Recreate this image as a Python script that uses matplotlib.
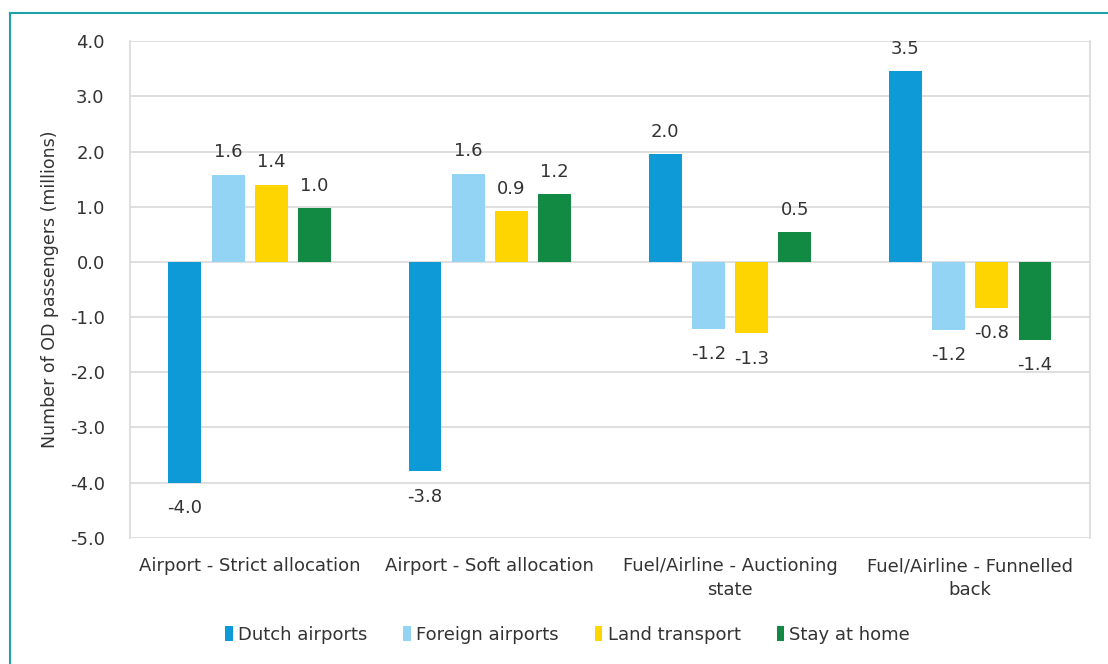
import matplotlib
matplotlib.use("Agg")
import matplotlib.pyplot as plt
import numpy as np
from matplotlib.lines import Line2D

categories = ["Airport - Strict allocation", "Airport - Soft allocation",
              "Fuel/Airline - Auctioning\nstate", "Fuel/Airline - Funnelled\nback"]
series_names = ["Dutch airports", "Foreign airports", "Land transport", "Stay at home"]
dutch = [-4.0, -3.79, 1.96, 3.46]
foreign = [1.58, 1.6, -1.21, -1.23]
land = [1.4, 0.92, -1.29, -0.83]
stay = [0.98, 1.23, 0.54, -1.41]
colors = ["#0d9ad6", "#93d3f4", "#ffd500", "#138a43"]
yticks = [4.0, 3.0, 2.0, 1.0, 0.0, -1.0, -2.0, -3.0, -4.0, -5.0]

plt.rcParams['font.family'] = ['DejaVu Sans']
fig = plt.figure(figsize=(11.08, 6.64), dpi=100)
ax = fig.add_axes([0.117, 0.190, 0.867, 0.748])

x = np.arange(len(categories))
width = 0.137
offsets = np.array([-1.5, -0.5, 0.5, 1.5]) * 0.18
data = [dutch, foreign, land, stay]
for i, (vals, name, c) in enumerate(zip(data, series_names, colors)):
    bars = ax.bar(x + offsets[i], vals, width, color=c, label=name, zorder=3)
    for b, v in zip(bars, vals):
        ytxt = v + (0.24 if v >= 0 else -0.3)
        ax.text(b.get_x() + b.get_width() / 2, ytxt, f"{v:.1f}",
                ha="center", va="bottom" if v >= 0 else "top",
                fontsize=13, color="#333333")

ax.set_xlim(-0.5, len(categories) - 0.5)
ax.set_ylim(-5.0, 4.0)
ax.set_yticks(yticks)
ax.set_yticklabels([f"{t:.1f}" for t in yticks], fontsize=13, color="#333333")
ax.set_xticks(x)
ax.set_xticklabels(categories, fontsize=13, color="#333333", linespacing=1.4)
ax.tick_params(axis="both", length=0)
ax.tick_params(axis="y", pad=18)
ax.tick_params(axis="x", pad=14)
ax.grid(axis="y", color="#d9d9d9", linewidth=1.2, zorder=0)
for s in ["top", "bottom"]:
    ax.spines[s].set_visible(False)
for s in ["left", "right"]:
    ax.spines[s].set_color("#d9d9d9")
    ax.spines[s].set_linewidth(1.2)
ax.set_ylabel("Number of OD passengers (millions)", fontsize=12.5, color="#333333", labelpad=8)

ax.legend(loc="upper center", bbox_to_anchor=(0.456, -0.145), ncol=4, frameon=False,
          fontsize=13, handlelength=0.4, handleheight=0.9, handletextpad=0.3,
          columnspacing=2.0, labelcolor="#333333")

teal = "#20a0aa"
fig.add_artist(Line2D([10/1108, 1.0], [1 - 13/664, 1 - 13/664], color=teal, lw=1.5, transform=fig.transFigure))
fig.add_artist(Line2D([10/1108, 10/1108], [0.0, 1 - 13/664], color=teal, lw=1.5, transform=fig.transFigure))

fig.savefig("out.png", dpi=100, facecolor="white")
